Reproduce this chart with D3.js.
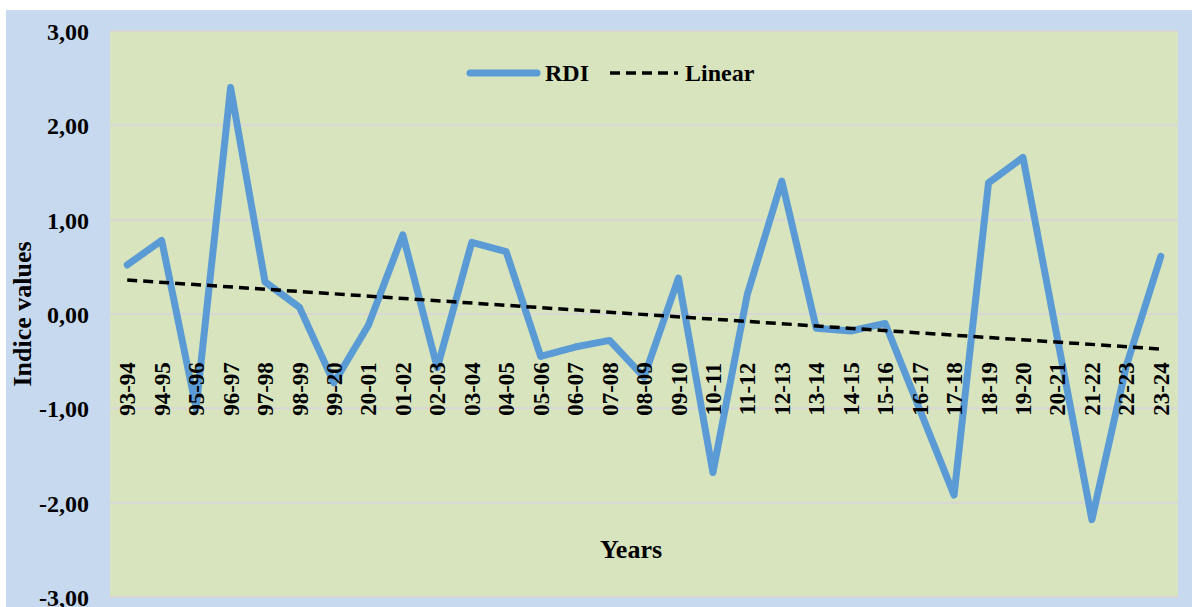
<!DOCTYPE html>
<html>
<head>
<meta charset="utf-8">
<script src="https://cdnjs.cloudflare.com/ajax/libs/d3/7.8.5/d3.min.js"></script>
<style>
  html, body { margin: 0; padding: 0; background: #ffffff; }
  svg { display: block; }
  text { font-family: "Liberation Serif", "Times New Roman", serif; font-weight: bold; fill: #000; }
</style>
</head>
<body>
<svg id="chart" width="1192" height="607"></svg>
<script>
// ---- Data ----
const years = ["93-94","94-95","95-96","96-97","97-98","98-99","99-20","20-01","01-02","02-03",
  "03-04","04-05","05-06","06-07","07-08","08-09","09-10","10-11","11-12","12-13",
  "13-14","14-15","15-16","16-17","17-18","18-19","19-20","20-21","21-22","22-23","23-24"];
const rdiValues = [0.52,0.78,-1.00,2.40,0.34,0.07,-0.73,-0.12,0.84,-0.57,
  0.76,0.66,-0.45,-0.35,-0.28,-0.67,0.38,-1.68,0.21,1.41,
  -0.15,-0.18,-0.10,-1.01,-1.92,1.39,1.66,-0.26,-2.18,-0.55,0.61];
const yTicks = [3,2,1,0,-1,-2,-3];
const seriesNames = ["RDI","Linear"];

// ---- Layout ----
const svg = d3.select("#chart");
const W = 1192, H = 607;
const plot = {left: 110, right: 1178, top: 31, bottom: 597};

// outer background
svg.append("rect").attr("x", 6).attr("y", 10).attr("width", W - 6).attr("height", H - 10)
  .attr("fill", "#c6d9ef");
// plot area
svg.append("rect").attr("x", plot.left).attr("y", plot.top)
  .attr("width", plot.right - plot.left).attr("height", plot.bottom - plot.top)
  .attr("fill", "#d7e4bd");

const x = d3.scaleBand().domain(years).range([plot.left, plot.right]).padding(0);
const y = d3.scaleLinear().domain([-3, 3]).range([plot.bottom, plot.top]);
const cx = d => x(d) + x.bandwidth() / 2;

// gridlines
svg.append("g").selectAll("line").data(yTicks).join("line")
  .attr("x1", plot.left).attr("x2", plot.right)
  .attr("y1", d => y(d)).attr("y2", d => y(d))
  .attr("stroke", "#d9d6d6").attr("stroke-width", 2);

// y axis labels
const fmt = v => d3.format(".2f")(v).replace(".", ",").replace("−", "-");
const yAxis = d3.axisLeft(y).tickValues(yTicks).tickFormat(fmt).tickSize(0).tickPadding(0);
const gy = svg.append("g").attr("transform", `translate(89,0)`).call(yAxis);
gy.select(".domain").remove();
gy.selectAll("text").attr("font-size", 24).attr("font-family", "Liberation Serif")
  .attr("font-weight", "bold").attr("dy", "0.35em");

// RDI line
const line = d3.line().x((d, i) => cx(years[i])).y(d => y(d));
svg.append("path").datum(rdiValues).attr("d", line)
  .attr("fill", "none").attr("stroke", "#5b9bd5").attr("stroke-width", 7)
  .attr("stroke-linejoin", "round").attr("stroke-linecap", "round");

// Linear trend (least squares)
const n = rdiValues.length;
const xs = d3.range(n);
const mx = d3.mean(xs), my = d3.mean(rdiValues);
const slope = d3.sum(xs, (v, i) => (v - mx) * (rdiValues[i] - my)) / d3.sum(xs, v => (v - mx) ** 2);
const icpt = my - slope * mx;
svg.append("line")
  .attr("x1", cx(years[0])).attr("y1", y(icpt))
  .attr("x2", cx(years[n - 1])).attr("y2", y(icpt + slope * (n - 1)))
  .attr("stroke", "#000").attr("stroke-width", 3.5).attr("stroke-dasharray", "10,6");

// x labels (drawn over line)
svg.append("g").selectAll("text").data(years).join("text")
  .attr("transform", d => `translate(${cx(d)},389) rotate(-90)`)
  .attr("text-anchor", "middle").attr("dy", "0.35em")
  .attr("font-size", 23).text(d => d);

// axis titles
svg.append("text").attr("transform", "translate(22,314) rotate(-90)")
  .attr("text-anchor", "middle").attr("dy", "0.35em").attr("font-size", 26).text("Indice values");
svg.append("text").attr("x", 631).attr("y", 549).attr("text-anchor", "middle")
  .attr("dy", "0.35em").attr("font-size", 26).text("Years");

// legend
const lg = svg.append("g");
lg.append("line").attr("x1", 470).attr("x2", 537).attr("y1", 73).attr("y2", 73)
  .attr("stroke", "#5b9bd5").attr("stroke-width", 7).attr("stroke-linecap", "round");
lg.append("text").attr("x", 545).attr("y", 73).attr("dy", "0.35em").attr("font-size", 24).text(seriesNames[0]);
lg.append("line").attr("x1", 610).attr("x2", 678).attr("y1", 73).attr("y2", 73)
  .attr("stroke", "#000").attr("stroke-width", 3.5).attr("stroke-dasharray", "10,6");
lg.append("text").attr("x", 685).attr("y", 73).attr("dy", "0.35em").attr("font-size", 24).text(seriesNames[1]);
</script>
</body>
</html>
